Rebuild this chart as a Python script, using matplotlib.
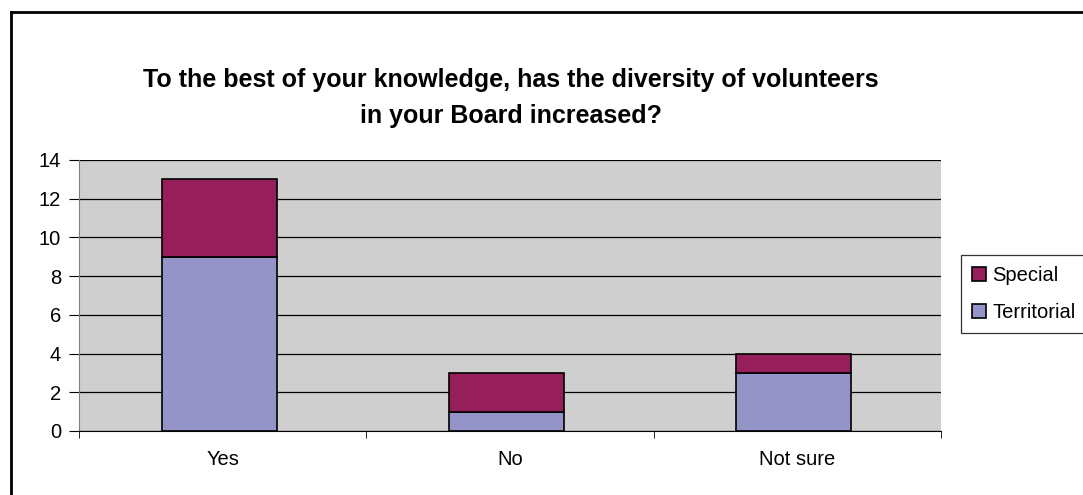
import matplotlib.pyplot as plt
from matplotlib.lines import Line2D
import numpy as np

plt.rcParams['font.family'] = ['Liberation Sans', 'DejaVu Sans']

categories = ["Yes", "No", "Not sure"]
territorial = [9, 1, 3]
special = [4, 2, 1]

fig = plt.figure(figsize=(10.83, 4.95), dpi=100)
ax = fig.add_axes([0.0729, 0.1293, 0.7960, 0.5475])

# outer chart border (only top and left visible)
fig.add_artist(Line2D([11/1083, 11/1083], [0, 1 - 12/495], transform=fig.transFigure,
                      color='black', lw=2))
fig.add_artist(Line2D([11/1083, 1], [1 - 12/495, 1 - 12/495], transform=fig.transFigure,
                      color='black', lw=2))

x = np.arange(len(categories)) - 0.012
w = 0.40
ax.set_facecolor('#cfcfcf')
ax.bar(x, territorial, w, color='#9494c8', edgecolor='black', lw=1.2, label='Territorial', zorder=3)
ax.bar(x, special, w, bottom=territorial, color='#961f5b', edgecolor='black', lw=1.2,
       label='Special', zorder=3)

ax.set_xlim(-0.5, len(categories) - 0.5)
ax.set_ylim(0, 14)
ax.set_yticks(range(0, 15, 2))
ax.yaxis.grid(True, color='black', lw=0.9, zorder=1)
ax.set_axisbelow(True)

ax.set_xticks(np.arange(len(categories)))
ax.set_xticklabels(categories, fontsize=14.5)
ax.set_xticks(np.arange(-0.5, len(categories)), minor=True)
ax.tick_params(axis='x', which='major', length=0, pad=14)
ax.tick_params(axis='x', which='minor', length=5, direction='out', color='black')
ax.tick_params(axis='y', length=7, direction='out', labelsize=14.5, pad=6)

for side in ['top', 'right']:
    ax.spines[side].set_visible(False)
ax.spines['left'].set_color('#808080')
ax.spines['bottom'].set_color('black')

fig.text(511/1083, 1 - 98/495,
         "To the best of your knowledge, has the diversity of volunteers\nin your Board increased?",
         ha='center', va='center', fontsize=18, fontweight='bold', linespacing=1.6)

handles, labels = ax.get_legend_handles_labels()
leg = fig.legend(handles[::-1], labels[::-1], loc='center left',
                 bbox_to_anchor=(961/1083, 1 - 294/495), fontsize=14.5, frameon=True,
                 fancybox=False, edgecolor='black', handlelength=0.7, handleheight=0.7,
                 handletextpad=0.3, borderpad=0.55, labelspacing=0.9, borderaxespad=0)
leg.get_frame().set_linewidth(0.9)

fig.savefig('out.png', dpi=100)
